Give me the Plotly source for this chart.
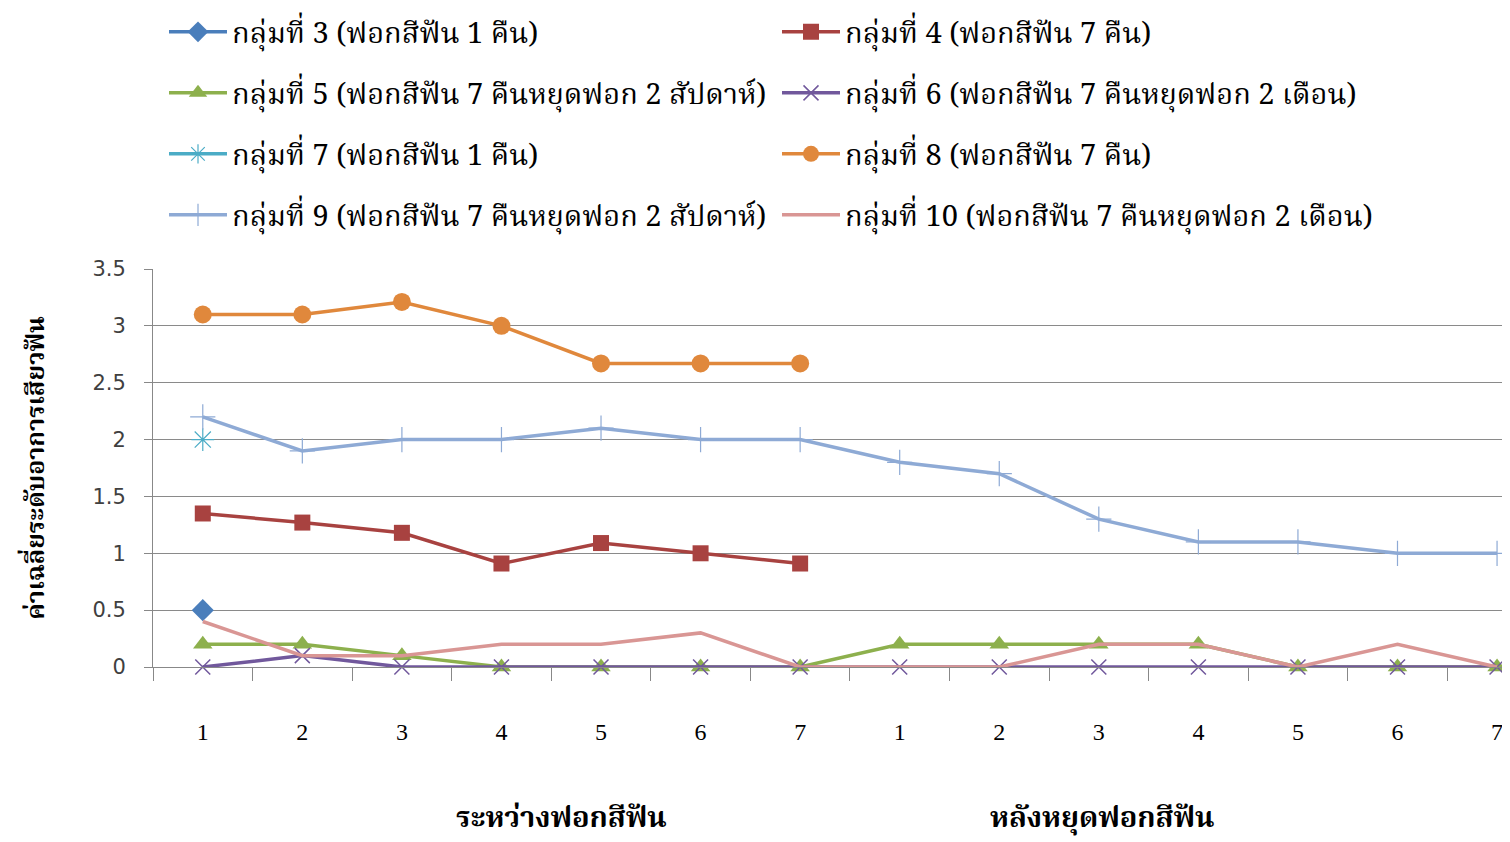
import plotly.graph_objects as go

# ---------------- data ----------------
day_labels = ["1", "2", "3", "4", "5", "6", "7", "1", "2", "3", "4", "5", "6", "7"]
phase_labels = ["ระหว่างฟอกสีฟัน", "หลังหยุดฟอกสีฟัน"]

g3 = [0.5]
g4 = [1.35, 1.27, 1.18, 0.91, 1.09, 1.0, 0.91]
g5 = [0.2, 0.2, 0.1, 0, 0, 0, 0, 0.2, 0.2, 0.2, 0.2, 0, 0, 0]
g6 = [0, 0.1, 0, 0, 0, 0, 0, 0, 0, 0, 0, 0, 0, 0]
g7 = [2.0]
g8 = [3.1, 3.1, 3.21, 3.0, 2.67, 2.67, 2.67]
g9 = [2.2, 1.9, 2.0, 2.0, 2.1, 2.0, 2.0, 1.8, 1.7, 1.3, 1.1, 1.1, 1.0, 1.0]
g10 = [0.4, 0.1, 0.1, 0.2, 0.2, 0.3, 0, 0, 0, 0.2, 0.2, 0, 0.2, 0]

names = [
    "กลุ่มที่ 3 (ฟอกสีฟัน 1 คืน)",
    "กลุ่มที่ 4 (ฟอกสีฟัน 7 คืน)",
    "กลุ่มที่ 5 (ฟอกสีฟัน 7 คืนหยุดฟอก 2 สัปดาห์)",
    "กลุ่มที่ 6 (ฟอกสีฟัน 7 คืนหยุดฟอก 2 เดือน)",
    "กลุ่มที่ 7 (ฟอกสีฟัน 1 คืน)",
    "กลุ่มที่ 8 (ฟอกสีฟัน 7 คืน)",
    "กลุ่มที่ 9 (ฟอกสีฟัน 7 คืนหยุดฟอก 2 สัปดาห์)",
    "กลุ่มที่ 10 (ฟอกสีฟัน 7 คืนหยุดฟอก 2 เดือน)",
]
y_title = "ค่าเฉลี่ยระดับอาการเสียวฟัน"

THAI = "Noto Serif Thai, Tlwg Typo, Garuda, Liberation Serif, Noto Sans Thai, serif"

# ---------------- styles ----------------
styles = [
    dict(color="#4A7EBB", symbol="diamond", size=17, mline="#4A7EBB", mw=0),
    dict(color="#A84240", symbol="square", size=16, mline="#A84240", mw=0),
    dict(color="#8DB04D", symbol="triangle-up", size=17, mline="#8DB04D", mw=0),
    dict(color="#71589C", symbol="x-thin-open", size=15, mline="#A496C8", mw=1.5),
    dict(color="#4BACC6", symbol="asterisk-open", size=19, mline="#4BACC6", mw=1.2),
    dict(color="#E0883C", symbol="circle", size=18, mline="#E0883C", mw=0),
    dict(color="#8EAAD5", symbol="cross-thin-open", size=18, mline="#8EAAD5", mw=1.2),
    dict(color="#D99694", symbol=None, size=0, mline="#D99694", mw=0),
]
series = [g3, g4, g5, g6, g7, g8, g9, g10]
legend_ids = ["legend", "legend", "legend2", "legend2", "legend3", "legend3", "legend4", "legend4"]

fig = go.Figure()
for name, vals, st, lg in zip(names, series, styles, legend_ids):
    marker = dict(color=st["color"], size=st["size"],
                  line=dict(color=st["mline"], width=st["mw"]))
    if st["symbol"]:
        marker["symbol"] = st["symbol"]
    fig.add_trace(go.Scatter(
        x=list(range(len(vals))), y=vals, name=name,
        mode="lines+markers" if st["symbol"] else "lines",
        line=dict(color=st["color"], width=3.5),
        marker=marker, legend=lg, cliponaxis=False,
    ))

# page body adds an 8px offset; figure is sized to fill the rest of the window
OFF = 8
W, H = 1510 - OFF, 842 - OFF
PL, PT, PB = 153 - OFF, 269 - OFF, 667 - OFF
row_y = [32 - OFF, 93 - OFF, 154 - OFF, 215 - OFF]
legend_common = dict(orientation="h", entrywidth=540, entrywidthmode="pixels",
                     x=156 / W, xanchor="left", xref="container", yref="container",
                     yanchor="middle", itemwidth=58, bgcolor="rgba(0,0,0,0)",
                     font=dict(family=THAI, size=29, color="#000000"),
                     tracegroupgap=0, itemclick=False)

fig.update_layout(
    width=W, height=H,
    margin=dict(l=PL, r=0, t=PT, b=H - PB, autoexpand=False),
    paper_bgcolor="white", plot_bgcolor="white",
    legend=dict(**legend_common, y=1 - row_y[0] / H),
    legend2=dict(**legend_common, y=1 - row_y[1] / H),
    legend3=dict(**legend_common, y=1 - row_y[2] / H),
    legend4=dict(**legend_common, y=1 - row_y[3] / H),
    xaxis=dict(
        range=[-0.5, 13.13], tickmode="array",
        tickvals=list(range(len(day_labels))), ticktext=day_labels,
        ticks="", showgrid=False, zeroline=False,
        showline=True, linecolor="#888888", linewidth=1,
        tickfont=dict(family="Liberation Serif, serif", size=24, color="#000000"),
        ticklabelstandoff=43,
        minor=dict(tickmode="array", tickvals=[i - 0.5 for i in range(15)],
                   ticks="outside", ticklen=13, tickcolor="#888888", tickwidth=1,
                   showgrid=False),
    ),
    yaxis=dict(
        range=[0, 3.5], tickmode="linear", tick0=0, dtick=0.5,
        showgrid=True, gridcolor="#8A8A8A", gridwidth=1, zeroline=False,
        showline=True, linecolor="#888888", linewidth=1,
        ticks="outside", ticklen=8, tickcolor="#888888",
        tickfont=dict(family="DejaVu Sans, sans-serif", size=21, color="#404040"),
        ticklabelstandoff=14,
        title=dict(text="<b>" + y_title + "</b>",
                   font=dict(family=THAI, size=25, color="#000000"), standoff=40),
    ),
)

# phase (group) labels below the day labels
phase_pos = [3.6, 9.03]
label_y = (PB - (819 - OFF)) / (PB - PT)
for txt, xp in zip(phase_labels, phase_pos):
    fig.add_annotation(x=xp, xref="x", y=label_y, yref="paper",
                       text="<b>" + txt + "</b>", showarrow=False,
                       font=dict(family=THAI, size=29, color="#000000"),
                       xanchor="center", yanchor="middle")

fig.write_html("out.html")
